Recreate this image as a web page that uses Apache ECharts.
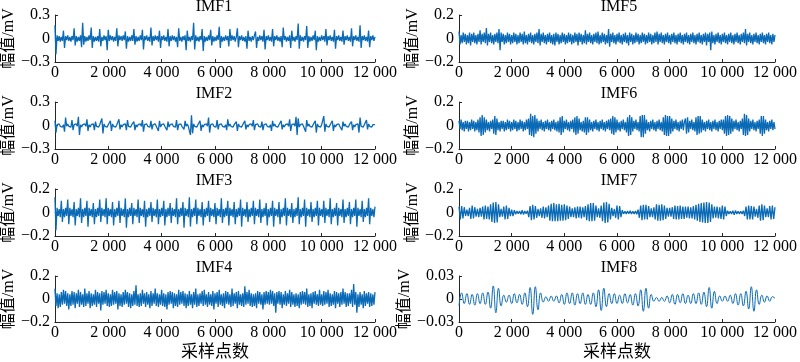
<!DOCTYPE html>
<html><head><meta charset="utf-8">
<script src="https://cdn.jsdelivr.net/npm/echarts@6/dist/echarts.min.js"></script>
<style>html,body{margin:0;padding:0;background:#fff}#c{width:800px;height:362px}</style>
</head><body><div id="c"></div>
<script>
// Titles and axis ranges
const titles = ['IMF1','IMF2','IMF3','IMF4','IMF5','IMF6','IMF7','IMF8'];
const yLimits = [0.3, 0.3, 0.2, 0.2, 0.2, 0.2, 0.2, 0.03];
const xTicks = [0, 2000, 4000, 6000, 8000, 10000, 12000];
const yName = '幅值/mV';
const xName = '采样点数';
// sample step between stored values
const stepNoise = 40, step7 = 50, step8 = 100;

const imf1 = [
.17,-.2,.04,-.03,.03,-.04,.02,-.03,.1,-.12,.03,-.02,.04,-.03,.02,-.04,.03,-.02,.13,-.09,.03,-.04,.02,-.03,.04,
-.11,.2,-.08,.03,-.04,.02,-.03,.04,-.02,.14,-.12,.03,-.04,.02,-.03,.03,-.04,.12,-.1,.02,-.03,.04,-.02,.03,-.15,
.11,-.03,.04,-.02,.03,-.04,.02,-.03,.13,-.1,.04,-.02,.03,-.03,.04,-.02,.09,-.13,.03,-.04,.02,-.03,.04,-.03,.12,
-.08,.03,-.04,.02,-.03,.04,-.02,.11,-.14,.03,-.02,.04,-.03,.02,-.04,.14,-.09,.03,-.03,.04,-.02,.03,-.04,.1,-.12,
.03,-.02,.04,-.03,.02,-.04,.12,-.1,.03,-.03,.04,-.02,.03,-.04,.02,-.11,.13,-.03,.02,-.04,.03,-.02,.04,-.15,.1,
-.03,.02,-.04,.03,-.02,.2,-.14,.04,-.03,.02,-.04,.03,-.02,.12,-.16,.03,-.04,.02,-.03,.04,-.02,.11,-.09,.03,-.04,
.02,-.03,.04,-.02,.15,-.12,.03,-.04,.02,-.03,.04,-.02,.03,-.1,.12,-.03,.04,-.02,.03,-.04,.02,.13,-.11,.03,-.02,
.04,-.03,.02,-.04,.03,-.13,.1,-.03,.02,-.04,.03,-.02,.04,.09,-.12,.02,-.03,.04,-.02,.03,-.04,.11,-.14,.03,-.02,
.04,-.03,.02,-.04,.12,-.1,.03,-.02,.04,-.03,.02,-.04,.03,-.11,.14,-.02,.03,-.04,.02,-.03,.04,-.12,.1,-.03,.02,
-.04,.03,-.02,.19,-.13,.04,-.03,.02,-.04,.03,-.02,.16,-.12,.03,-.04,.02,-.03,.04,-.02,.1,-.15,.03,-.04,.02,-.03,
.04,-.02,.03,-.04,.12,-.09,.03,-.02,.04,-.03,.02,-.04,.11,-.13,.03,-.02,.04,-.03,.02,-.04,.1,-.08,.03,-.02,.04,
-.03,.02,-.04,.13,-.1,.03,-.02,.04,-.03,.02,-.04,.17,-.12,.03,-.02,.04,-.03,.02,-.04,.1,-.11,.03,-.02,.04,-.03,
.02];
const imf2 = [
.06,-.09,.01,-.01,.02,-.01,.01,-.02,.01,-.08,.1,-.01,.02,-.01,.01,-.02,.07,-.06,.01,-.01,.02,-.01,.11,-.12,.01,
-.02,.01,-.01,.02,-.01,.08,-.07,.01,-.02,.01,-.01,.02,-.06,.05,-.01,.01,-.02,.01,-.01,.09,-.1,.02,-.01,.01,-.02,
.01,-.01,.06,-.07,.02,-.01,.01,-.02,.01,-.01,.08,-.05,.01,-.02,.01,-.01,.02,-.06,.07,-.01,.01,-.02,.01,-.01,.05,
-.06,.01,-.02,.01,-.01,.02,-.01,.07,-.08,.01,-.01,.02,-.01,.01,-.02,.06,-.05,.01,-.01,.02,-.01,.01,-.07,.06,-.02,
.01,-.01,.02,-.01,.01,-.06,.05,-.02,.01,-.01,.02,-.01,.01,-.02,.07,-.06,.01,-.01,.02,-.01,.01,-.05,.06,-.01,.02,
-.01,.01,-.12,.13,-.1,.02,-.01,.01,-.02,.01,-.01,.06,-.07,.01,-.02,.01,-.01,.02,-.01,.1,-.09,.01,-.01,.02,-.01,
.01,-.02,.07,-.05,.01,-.01,.02,-.01,.01,-.02,.01,-.06,.08,-.01,.02,-.01,.01,-.02,.01,-.01,.05,-.07,.02,-.01,.01,
-.02,.01,-.01,.06,-.05,.01,-.02,.01,-.01,.02,-.01,.07,-.06,.01,-.01,.02,-.01,.01,-.02,.05,-.06,.01,-.01,.02,-.01,
.01,-.02,.01,-.07,.06,-.01,.02,-.01,.01,-.02,.01,-.01,.06,-.05,.01,-.02,.01,-.01,.02,-.01,.08,-.07,.01,-.01,.02,
-.01,.11,-.12,.09,-.02,.01,-.01,.02,-.01,.01,-.08,.07,-.01,.02,-.01,.01,-.02,.01,-.01,.06,-.09,.02,-.01,.01,-.02,
.01,-.01,.12,-.08,.02,-.01,.01,-.02,.01,-.01,.06,-.07,.01,-.02,.01,-.01,.02,-.01,.01,-.06,.05,-.01,.02,-.01,.01,
-.02,.01,-.01,.05,-.06,.01,-.02,.01,-.01,.02,-.09,.1,-.01,.01,-.02,.01,-.01,.07,-.05,.02,-.01,.01,-.02,.01,-.01,
.01];
const imf3 = [
.13,-.15,.04,-.03,.03,-.04,.1,-.08,.03,-.04,.04,-.03,.11,-.1,.04,-.03,.03,-.04,.09,-.11,.03,-.03,.04,-.04,.12,
-.09,.03,-.04,.04,-.03,.1,-.12,.04,-.03,.03,-.04,.08,-.1,.03,-.04,.04,-.03,.11,-.08,.04,-.03,.03,-.04,.12,-.1,
.04,-.03,.03,-.04,.09,-.11,.03,-.04,.04,-.03,.1,-.09,.04,-.03,.03,-.04,.12,-.13,.03,-.04,.04,-.03,.08,-.1,.04,
-.03,.03,-.04,.11,-.09,.04,-.03,.03,-.04,.1,-.12,.03,-.04,.04,-.03,.09,-.08,.04,-.03,.03,-.04,.11,-.1,.03,-.04,
.04,-.03,.1,-.11,.03,-.04,.04,-.03,.08,-.09,.04,-.03,.03,-.04,.12,-.1,.03,-.04,.04,-.03,.09,-.13,.04,-.03,.03,
-.04,.13,-.12,.03,-.04,.04,-.03,.11,-.1,.04,-.03,.03,-.04,.09,-.11,.03,-.04,.04,-.03,.1,-.08,.04,-.03,.03,-.04,
.08,-.1,.04,-.03,.03,-.04,.12,-.09,.03,-.04,.04,-.03,.1,-.11,.04,-.03,.03,-.04,.09,-.1,.03,-.04,.04,-.03,.11,
-.12,.04,-.03,.03,-.04,.09,-.08,.03,-.04,.04,-.03,.1,-.1,.04,-.03,.03,-.04,.11,-.09,.03,-.04,.04,-.03,.08,-.11,
.03,-.04,.04,-.03,.1,-.12,.04,-.03,.03,-.04,.09,-.1,.03,-.04,.04,-.03,.12,-.11,.04,-.03,.03,-.04,.08,-.09,.03,
-.04,.04,-.03,.13,-.1,.03,-.04,.04,-.03,.11,-.12,.04,-.03,.03,-.04,.09,-.08,.03,-.04,.04,-.03,.1,-.11,.04,-.03,
.03,-.04,.1,-.09,.04,-.03,.03,-.04,.12,-.1,.03,-.04,.04,-.03,.08,-.11,.04,-.03,.03,-.04,.11,-.09,.03,-.04,.04,
-.03,.09,-.1,.03,-.04,.04,-.03,.11,-.12,.04,-.03,.03,-.04,.1,-.08,.03,-.04,.04,-.03,.12,-.1,.04,-.03,.03,-.04,
.05];
const imf4 = [
.09,-.06,.05,-.08,.04,-.07,.06,-.05,.08,-.04,.07,-.06,.05,-.09,.04,-.06,.07,-.05,.06,-.08,.05,-.04,.08,-.07,.06,
-.05,.04,-.07,.09,-.06,.05,-.04,.07,-.08,.05,-.06,.04,-.05,.08,-.07,.06,-.04,.05,-.1,.07,-.05,.06,-.04,.08,-.06,
.05,-.07,.04,-.06,.08,-.05,.06,-.04,.07,-.09,.05,-.06,.04,-.07,.06,-.05,.08,-.04,.06,-.07,.05,-.08,.04,-.06,.07,
-.05,.12,-.06,.04,-.07,.05,-.06,.08,-.04,.05,-.07,.06,-.05,.04,-.08,.07,-.06,.05,-.04,.09,-.06,.05,-.07,.04,-.05,
.08,-.06,.05,-.07,.04,-.09,.06,-.05,.07,-.04,.06,-.08,.05,-.06,.04,-.07,.08,-.05,.06,-.04,.07,-.06,.05,-.08,.04,
-.06,.07,-.05,.04,-.08,.06,-.05,.09,-.07,.04,-.06,.05,-.04,.07,-.06,.08,-.05,.04,-.07,.06,-.05,.04,-.06,.07,-.09,
.05,-.04,.06,-.07,.08,-.05,.04,-.06,.05,-.08,.07,-.04,.06,-.05,.04,-.07,.09,-.06,.05,-.04,.06,-.08,.07,-.05,.04,
-.06,.05,-.07,.11,-.05,.06,-.04,.08,-.06,.05,-.07,.04,-.06,.05,-.08,.07,-.04,.06,-.05,.04,-.09,.06,-.05,.07,-.04,
.06,-.05,.08,-.04,.07,-.06,.05,-.12,.06,-.04,.07,-.05,.06,-.08,.04,-.05,.07,-.06,.05,-.04,.08,-.07,.06,-.05,.04,
-.07,.05,-.06,.04,-.08,.06,-.05,.07,-.04,.06,-.05,.09,-.07,.04,-.06,.05,-.08,.06,-.04,.07,-.05,.04,-.06,.08,-.05,
.04,-.06,.07,-.05,.06,-.04,.08,-.07,.05,-.06,.04,-.05,.07,-.08,.06,-.04,.05,-.07,.06,-.05,.09,-.04,.06,-.07,.05,
-.06,.05,-.04,.08,-.07,.13,-.05,.06,-.12,.04,-.07,.06,-.05,.04,-.08,.07,-.06,.05,-.04,.06,-.07,.05,-.06,.04,-.05,
.06];
const imf5 = [
.06,-.05,.03,-.04,.05,-.03,.04,-.05,.03,-.04,.05,-.06,.04,-.03,.05,-.04,.03,-.05,.04,-.03,.07,-.05,.04,-.03,.05,
-.04,.09,-.06,.04,-.03,.05,-.04,.03,-.05,.04,-.03,.05,-.04,.08,-.1,.05,-.03,.04,-.05,.03,-.04,.05,-.03,.04,-.05,
.03,-.04,.05,-.03,.04,-.05,.03,-.04,.05,-.03,.04,-.05,.06,-.04,.03,-.05,.04,-.03,.05,-.04,.03,-.05,.04,-.03,.05,
-.04,.08,-.06,.04,-.03,.05,-.04,.03,-.05,.04,-.03,.05,-.04,.03,-.05,.04,-.06,.05,-.03,.04,-.05,.03,-.04,.05,-.03,
.04,-.05,.03,-.04,.05,-.03,.04,-.05,.03,-.04,.05,-.03,.04,-.06,.05,-.03,.04,-.05,.03,-.04,.07,-.05,.04,-.03,.05,
-.04,.03,-.05,.04,-.03,.05,-.04,.06,-.05,.03,-.04,.05,-.03,.04,-.05,.03,-.04,.08,-.07,.04,-.03,.05,-.04,.03,-.05,
.04,-.03,.05,-.04,.03,-.05,.04,-.03,.05,-.04,.03,-.06,.05,-.03,.04,-.05,.03,-.04,.05,-.03,.04,-.05,.03,-.04,.05,
-.03,.04,-.05,.03,-.04,.05,-.03,.04,-.05,.03,-.04,.05,-.03,.06,-.05,.04,-.03,.05,-.04,.03,-.05,.04,-.03,.05,-.04,
.03,-.05,.04,-.03,.05,-.04,.03,-.05,.04,-.03,.05,-.04,.03,-.05,.04,-.03,.05,-.04,.03,-.05,.04,-.03,.05,-.04,.03,
-.05,.04,-.03,.05,-.04,.03,-.05,.04,-.03,.05,-.06,.04,-.03,.05,-.1,.06,-.04,.03,-.05,.04,-.03,.05,-.04,.03,-.05,
.04,-.03,.05,-.04,.03,-.05,.04,-.03,.05,-.04,.03,-.05,.04,-.03,.05,-.04,.03,-.05,.04,-.03,.05,-.04,.08,-.06,.04,
-.03,.05,-.04,.03,-.05,.04,-.03,.05,-.04,.03,-.05,.04,-.03,.05,-.04,.03,-.05,.04,-.03,.05,-.04,.03,-.05,.04,-.03,
.03];
const imf6 = [
.04,-.03,.05,-.04,.03,-.05,.04,-.03,.04,-.05,.03,-.04,.05,-.03,.04,-.05,.03,-.04,.05,-.06,.07,-.09,.09,-.08,.07,
-.06,.05,-.04,.03,-.05,.04,-.03,.05,-.07,.08,-.08,.06,-.04,.03,-.05,.04,-.03,.04,-.05,.03,-.04,.05,-.03,.04,-.05,
.03,-.04,.05,-.03,.04,-.05,.03,-.04,.05,-.03,.04,-.05,.03,-.04,.05,-.03,.06,-.08,.1,-.09,.08,-.1,.09,-.07,.06,
-.05,.04,-.03,.05,-.04,.03,-.05,.04,-.03,.05,-.04,.03,-.05,.04,-.03,.05,-.04,.03,-.05,.04,-.06,.07,-.08,.08,-.06,
.04,-.03,.05,-.04,.03,-.05,.04,-.03,.05,-.06,.07,-.08,.08,-.07,.06,-.04,.03,-.05,.04,-.06,.07,-.08,.07,-.06,.05,
-.04,.03,-.05,.04,-.03,.05,-.04,.03,-.05,.04,-.03,.05,-.04,.03,-.05,.04,-.03,.05,-.04,.06,-.07,.08,-.08,.07,-.06,
.05,-.04,.03,-.05,.04,-.03,.05,-.04,.03,-.06,.07,-.09,.09,-.08,.07,-.05,.04,-.03,.05,-.04,.03,-.05,.08,-.1,.09,
-.1,.09,-.07,.05,-.04,.03,-.05,.04,-.03,.05,-.04,.03,-.05,.04,-.03,.05,-.04,.03,-.05,.07,-.08,.09,-.09,.08,-.09,
.08,-.07,.06,-.05,.04,-.03,.05,-.04,.03,-.05,.04,-.03,.05,-.04,.03,.06,-.07,.07,-.06,.04,-.03,.05,-.04,.03,-.05,
.07,-.08,.08,-.07,.08,-.06,.05,-.04,.03,-.05,.04,-.03,.05,-.04,.03,-.05,.04,-.03,.05,-.04,.03,-.05,.04,-.03,.05,
-.04,.05,-.07,.08,-.09,.09,-.08,.08,-.07,.06,-.05,.04,-.03,.05,-.04,.03,-.05,.04,-.03,.06,-.08,.1,-.09,.09,-.08,
.06,-.05,.04,-.03,.05,-.04,.03,-.05,.04,-.03,.05,-.07,.08,-.09,.08,-.07,.05,-.04,.03,-.05,.04,-.03,.05,-.04,.03,
-.03];
const imf7 = [
.05,-.06,.055,-.05,.045,-.03,.025,-.03,.04,-.055,.06,-.05,.045,-.035,.03,-.04,.04,-.035,.05,-.06,
.06,-.055,.05,-.06,.07,-.08,.085,-.09,.09,-.085,.07,-.04,.03,-.035,.05,-.06,.06,-.055,.04,-.03,
.025,-.03,.02,-.015,.012,-.01,.012,-.015,.02,-.018,.012,-.01,.015,-.04,.055,-.065,.065,-.06,.055,-.045,
.03,-.03,.035,-.045,.05,-.05,.045,-.04,.06,-.07,.075,-.075,.08,-.075,.07,-.075,.075,-.07,.065,-.07,
.07,-.065,.06,-.055,.05,-.04,.035,-.04,.045,-.05,.05,-.045,.05,-.05,.045,-.04,.055,-.065,.07,-.075,
.08,-.075,.08,-.07,.06,-.04,.035,-.045,.06,-.075,.085,-.09,.09,-.085,.075,-.06,.04,-.03,.03,-.045,
.06,-.06,.055,-.04,.02,-.012,.01,-.012,.012,-.01,.015,-.012,.01,-.012,.012,-.015,.025,-.045,.06,-.065,
.065,-.06,.065,-.06,.055,-.04,.035,-.04,.045,-.06,.07,-.07,.065,-.07,.07,-.065,.06,-.055,.04,-.035,
.04,-.035,.045,-.055,.06,-.06,.055,-.06,.06,-.055,.05,-.055,.05,-.045,.05,-.05,.045,-.05,.055,-.06,
.065,-.07,.075,-.08,.08,-.085,.085,-.09,.09,-.09,.085,-.08,.07,-.05,.05,-.045,.05,-.05,.045,-.055,
.06,-.06,.05,-.03,.015,-.012,.01,-.012,.015,-.02,.018,-.012,.01,-.012,.01,-.012,.015,-.03,.05,-.06,
.06,-.06,.055,-.06,.05,-.035,.03,-.045,.06,-.07,.07,-.065,.06,-.04,.035,-.04,.055,-.06,.06,-.055,
.045];
const imf8 = [
-.009,.008,-.006,.007,-.007,.006,-.008,.007,-.006,.008,
-.007,.009,-.012,.017,-.018,.014,-.009,.005,-.004,.005,
-.006,.007,-.005,.006,-.007,.008,-.01,.015,-.02,.016,
-.014,.008,-.004,.003,-.003,.004,-.003,.004,-.005,.006,
-.007,.008,-.006,.008,-.008,.007,-.006,.008,-.007,.006,
-.007,.008,-.01,.012,-.015,.014,-.01,.007,-.006,.007,
-.006,.005,-.006,.007,-.005,.006,-.008,.007,-.009,.012,
-.016,.014,-.012,.006,-.003,.002,-.003,.002,-.003,.004,
-.005,.006,-.007,.006,-.005,.007,-.006,.005,-.006,.007,
-.006,.008,-.007,.009,-.01,.015,-.012,.01,-.006,.004,
-.003,.004,-.003,.005,-.006,.007,-.008,.007,-.009,.01,
-.013,.016,-.016,.012,-.007,.005,-.004,.004,-.003,.003,
.001];

const seriesVals = [imf1, imf2, imf3, imf4, imf5, imf6, imf7, imf8];
const seriesSteps = [stepNoise, stepNoise, stepNoise, stepNoise, stepNoise, stepNoise, step7, step8];

const rowTops = [15, 102, 189, 276];
const gridH = 47;
const cols = [{left: 53, width: 322}, {left: 459, width: 320}];
const FONT = "'Liberation Serif','Noto Sans CJK SC',serif";
const LINE = '#0a6ab5';

const fmtX = v => String(v).replace(/\B(?=(\d{3})+(?!\d))/g, ' ');
const fmtY = v => (v < 0 ? '\u2212' + String(+Math.abs(v).toFixed(4)) : String(+v.toFixed(4)));

const grid = [], xAxis = [], yAxis = [], series = [], title = [];
for (let k = 0; k < 8; k++) {
  const col = cols[k < 4 ? 0 : 1];
  const row = k % 4;
  grid.push({left: col.left, width: col.width, top: rowTops[row], height: gridH, containLabel: false});
  title.push({text: titles[k], left: col.left + col.width / 2, top: rowTops[row] - 16, textAlign: 'center',
    padding: 0, textStyle: {fontFamily: FONT, fontSize: 16, fontWeight: 'normal', color: '#000'}});
  const axisLineStyle = {color: '#262626', width: 1};
  xAxis.push({type: 'value', gridIndex: k, min: xTicks[0], max: xTicks[xTicks.length - 1], interval: xTicks[1] - xTicks[0],
    axisLine: {show: true, onZero: false, lineStyle: axisLineStyle},
    axisTick: {show: true, inside: true, length: 3, lineStyle: axisLineStyle},
    axisLabel: {formatter: fmtX, fontFamily: FONT, fontSize: 16, color: '#000', margin: 3, showMinLabel: true, showMaxLabel: true, hideOverlap: false},
    splitLine: {show: false},
    name: row === 3 ? xName : '', nameLocation: 'middle', nameGap: 22,
    nameTextStyle: {fontFamily: FONT, fontSize: 17, color: '#000'}
  });
  const lim = yLimits[k];
  yAxis.push({type: 'value', gridIndex: k, min: -lim, max: lim, interval: lim,
    axisLine: {show: true, onZero: false, lineStyle: axisLineStyle},
    axisTick: {show: true, inside: true, length: 3, lineStyle: axisLineStyle},
    axisLabel: {formatter: fmtY, fontFamily: FONT, fontSize: 16, color: '#000', margin: 5, showMinLabel: true, showMaxLabel: true},
    splitLine: {show: false},
    name: yName, nameLocation: 'middle', nameGap: 31, nameRotate: 90,
    nameTextStyle: {fontFamily: FONT, fontSize: 16, color: '#000'}
  });
  const st = seriesSteps[k];
  series.push({type: 'line', xAxisIndex: k, yAxisIndex: k, showSymbol: false, symbol: 'none',
    smooth: k === 7 ? 0.5 : false, sampling: 'none', animation: false,
    lineStyle: {color: LINE, width: k === 7 ? 1 : 1.3}, itemStyle: {color: LINE},
    data: seriesVals[k].map((v, i) => [i * st, v])});
}

const chart = echarts.init(document.getElementById('c'), null, {renderer: 'canvas'});
chart.setOption({animation: false, backgroundColor: '#fff', title, grid, xAxis, yAxis, series});
</script>
</body></html>
